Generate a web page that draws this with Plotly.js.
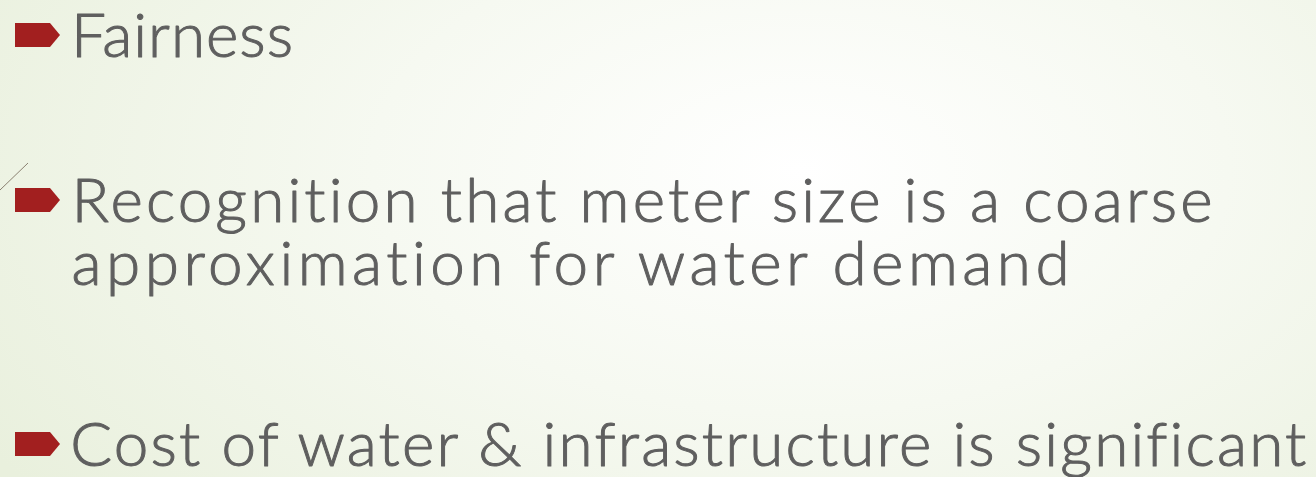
<!DOCTYPE html>
<html>
<head>
<meta charset="utf-8">
<script src="https://cdn.plot.ly/plotly-3.0.1.min.js"></script>
<style>
  html, body { margin: 0; padding: 0; width: 1316px; height: 477px; overflow: hidden; }
  body { background: radial-gradient(ellipse 950px 540px at 800px 170px, #ffffff 0%, #f6f9f1 45%, #e9f0dd 100%); }
  #chart { width: 1316px; height: 477px; }
  #chart text { font-variant-ligatures: none; font-feature-settings: "liga" 0, "clig" 0; }
  #chart .annotation-text { stroke: #5f5f5f; stroke-width: 1px; stroke-linejoin: round; }
</style>
</head>
<body>
<div id="chart"></div>
<script>
// Slide content: bullet lines
const lineTexts = [
  "Fairness",
  "Recognition that meter size is a coarse",
  "approximation for water demand",
  "Cost of water & infrastructure is significant"
];
const lineHasBullet = [true, true, false, true];
const lineBaselineY = [57, 222, 285, 466];
const lineWidths = [222, 1141, 998, 1236];

const W = 1316, H = 477;
const textColor = "#5f5f5f";
const bulletColor = "#a21f1f";
const fontFamily = "Lato, 'Open Sans', sans-serif";
const fontSize = 62;
const textLeft = 70;

const annotations = [];
const shapes = [];
lineTexts.forEach((t, i) => {
  annotations.push({
    x: textLeft / W, y: 1 - (lineBaselineY[i] + 14) / H, xref: "paper", yref: "paper",
    xanchor: "left", yanchor: "bottom", showarrow: false,
    text: t, font: { family: fontFamily, size: fontSize, color: textColor, weight: 300 },
    borderpad: 0
  });
  if (lineHasBullet[i]) {
    const cy = lineBaselineY[i] - 22;
    shapes.push({
      type: "path", xref: "x", yref: "y",
      path: `M15,${cy - 12} L50,${cy - 12} L60,${cy} L50,${cy + 12} L15,${cy + 12} Z`,
      fillcolor: bulletColor, line: { width: 0 }
    });
  }
});
// small decorative line at left
shapes.push({ type: "line", xref: "x", yref: "y", x0: 0, y0: 190, x1: 28, y1: 163,
  line: { color: "#8a8070", width: 1 } });

const layout = {
  width: W, height: H,
  margin: { l: 0, r: 0, t: 0, b: 0 },
  paper_bgcolor: "rgba(0,0,0,0)", plot_bgcolor: "rgba(0,0,0,0)",
  xaxis: { range: [0, W], visible: false, fixedrange: true },
  yaxis: { range: [H, 0], visible: false, fixedrange: true },
  showlegend: false,
  annotations: annotations, shapes: shapes
};
Plotly.newPlot("chart", [], layout, { staticPlot: true, displayModeBar: false }).then(gd => {
  // widen letter spacing so each line spans the same width as on the slide,
  // keeping the left edge where Plotly put it
  const texts = gd.querySelectorAll(".annotation-text");
  texts.forEach((el, i) => {
    if (!lineWidths[i]) return;
    const before = el.getBBox();
    el.setAttribute("textLength", lineWidths[i]);
    el.setAttribute("lengthAdjust", "spacing");
    const after = el.getBBox();
    const x0 = parseFloat(el.getAttribute("x")) || 0;
    el.setAttribute("x", x0 + (before.x - after.x));
  });
});
</script>
</body>
</html>
